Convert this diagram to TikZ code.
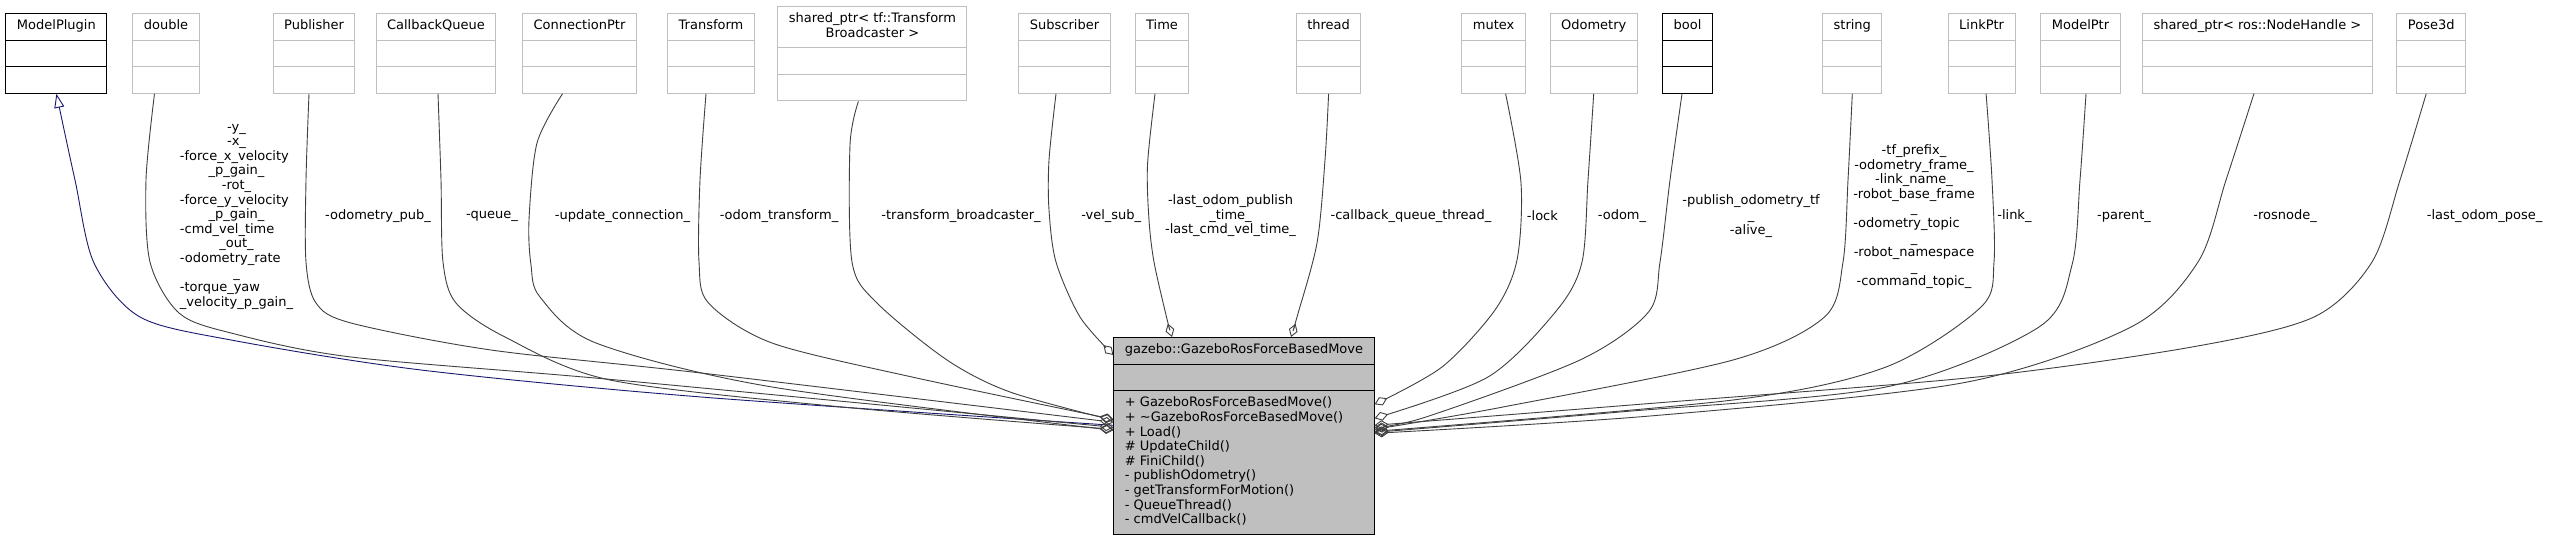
\documentclass[tikz,border=0pt]{standalone}
\usepackage{fontspec}
\setmainfont{DejaVu Sans}
\usepackage{calc}
\usepackage{tikz}
\usetikzlibrary{shapes.multipart,arrows.meta,positioning}
\definecolor{dxgrey}{HTML}{BFBFBF}
\definecolor{dxedge}{HTML}{404040}
\definecolor{dxblue}{HTML}{191970}
% left-justified lines inside centred labels
\newcommand{\dblline}[1]{\makebox[\widthof{\_velocity\_p\_gain\_}][l]{#1}}
\newcommand{\strline}[1]{\makebox[\widthof{-robot\_base\_frame}][l]{#1}}

\begin{document}
\begin{tikzpicture}[
  x=1bp, y=-1bp,
  font=\fontsize{13bp}{14.6bp}\selectfont,
  cls/.style={rectangle split, rectangle split parts=3,
              rectangle split ignore empty parts=false,
              rectangle split empty part height=10.2bp,
              rectangle split empty part depth=4.4bp,
              draw=dxgrey, line width=1bp, fill=white, align=center,
              inner xsep=11bp, inner ysep=5.5bp, anchor=north},
  doc/.style={cls, draw=black},
  lbl/.style={inner sep=0pt, align=center},
  uses/.style={dxedge, line width=0.9bp, -{Diamond[open, length=14bp, width=9bp]}},
  inh/.style={dxblue, line width=0.9bp, {Triangle[open, length=14bp, width=10bp]}-}
]
\fill[white] (0,0) rectangle (2550,536);
\useasboundingbox (0,0) rectangle (2550,536);

% member types
\node[doc] (MP) at (56.4,13) {\strut ModelPlugin\nodepart{two}\nodepart{three}};
\node[cls] (dbl) at (166,13) {\strut double\nodepart{two}\nodepart{three}};
\node[cls] (pub) at (314,13) {\strut Publisher\nodepart{two}\nodepart{three}};
\node[cls] (cbq) at (436,13) {\strut CallbackQueue\nodepart{two}\nodepart{three}};
\node[cls] (con) at (579.5,13) {\strut ConnectionPtr\nodepart{two}\nodepart{three}};
\node[cls] (trf) at (711,13) {\strut Transform\nodepart{two}\nodepart{three}};
\node[cls] (tfb) at (872.4,6) {\strut shared\_ptr< tf::Transform\\Broadcaster >\strut\nodepart{two}\nodepart{three}};
\node[cls] (sub) at (1064.5,13) {\strut Subscriber\nodepart{two}\nodepart{three}};
\node[cls] (tim) at (1162,13) {\strut Time\nodepart{two}\nodepart{three}};
\node[cls] (thr) at (1328.6,13) {\strut thread\nodepart{two}\nodepart{three}};
\node[cls] (mtx) at (1493.6,13) {\strut mutex\nodepart{two}\nodepart{three}};
\node[cls] (odo) at (1593.7,13) {\strut Odometry\nodepart{two}\nodepart{three}};
\node[doc] (bol) at (1687.5,13) {\strut bool\nodepart{two}\nodepart{three}};
\node[cls] (str) at (1852.3,13) {\strut string\nodepart{two}\nodepart{three}};
\node[cls] (lnk) at (1981.6,13) {\strut LinkPtr\nodepart{two}\nodepart{three}};
\node[cls] (mdl) at (2080.5,13) {\strut ModelPtr\nodepart{two}\nodepart{three}};
\node[cls] (nh) at (2257.4,13) {\strut shared\_ptr< ros::NodeHandle >\nodepart{two}\nodepart{three}};
\node[cls] (pose) at (2431.2,13) {\strut Pose3d\nodepart{two}\nodepart{three}};

% the plugin class
\node[cls, draw=black, fill=dxgrey, align=left, rectangle split part align={center,left,left}]
  (main) at (1244,337)
  {\strut gazebo::GazeboRosForceBasedMove\nodepart{two}\nodepart{three}%
   \strut+ GazeboRosForceBasedMove()\\+ \textasciitilde GazeboRosForceBasedMove()\\+ Load()\\
   \# UpdateChild()\\\# FiniChild()\\- publishOdometry()\\- getTransformForMotion()\\
   - QueueThread()\\- cmdVelCallback()\strut};

% edges
\draw[inh] plot[smooth] coordinates {(MP.south) (75,180) (94,263) (140,317) (231,340)
  (421,370) (701,397) ([yshift=10.5bp]main.west)};
\draw[uses] plot[smooth] coordinates {([xshift=-11.5bp]dbl.south) (146,180) (150,262)
  (179,313) (231,333) (351,357) (617,380) ([yshift=8.5bp]main.west)};
\draw[uses] plot[smooth] coordinates {([xshift=-5bp]pub.south) (306,180) (306,262)
  (316,303) (351,323) (491,350) (701,373) ([yshift=13.5bp]main.west)};
\draw[uses] plot[smooth] coordinates {([xshift=2bp]cbq.south) (441,180) (443,262)
  (456,303) (505,337) (610,380) (842,407) ([yshift=6.5bp]main.west)};
\draw[uses] plot[smooth] coordinates {([xshift=-17bp]con.south) (537,143) (529,220)
  (531,265) (540,297) (596,343) (772,387) ([yshift=5.5bp]main.west)};
\draw[uses] plot[smooth] coordinates {([xshift=-5bp]trf.south) (700,180) (699,262)
  (708.5,303) (772,343) (912,377) ([yshift=16.5bp]main.west)};
\draw[uses] plot[smooth] coordinates {([xshift=-14bp]tfb.south) (850,145) (852,262)
  (877,303) (947,360) (1010,392) ([yshift=15.5bp]main.west)};
\draw[uses] plot[smooth] coordinates {([xshift=-8.5bp]sub.south) (1049,160) (1049,210)
  (1056,262) (1080,317) ([yshift=-18bp]main.north west)};
\draw[uses] plot[smooth] coordinates {([xshift=-7bp]tim.south) (1147.5,165) (1149,220)
  (1154,262) (1166.5,317) ([xshift=-72bp]main.north)};
\draw[uses] plot[smooth] coordinates {(thr.south) (1325,160) (1317,243) (1297,317)
  ([xshift=47bp]main.north)};
\draw[uses] plot[smooth] coordinates {([xshift=12bp]mtx.south) (1521,183) (1517,260)
  (1495,310) (1442,367) ([yshift=31.5bp]main.east)};
\draw[uses] plot[smooth] coordinates {(odo.south) (1588,180) (1582,262) (1557,310)
  (1488,377) ([yshift=17.5bp]main.east)};
\draw[uses] plot[smooth] coordinates {([xshift=-5.5bp]bol.south) (1670,180) (1660,262)
  (1648.5,312) (1580,360) (1426,417) ([yshift=8.5bp]main.east)};
\draw[uses] plot[smooth] coordinates {(str.south) (1848,180) (1843,262) (1824.5,317)
  (1733,360) (1503,407) ([yshift=6.5bp]main.east)};
\draw[uses] plot[smooth] coordinates {([xshift=4.5bp]lnk.south) (1992,180) (1994,262)
  (1981,307) (1886,367) (1733,400) ([yshift=4.5bp]main.east)};
\draw[uses] plot[smooth] coordinates {([xshift=5.5bp]mdl.south) (2080,180) (2072,265)
  (2039,327) (1886,387) (1620,412) ([yshift=3.5bp]main.east)};
\draw[uses] plot[smooth] coordinates {([xshift=-3.5bp]nh.south) (2226,180) (2198,262)
  (2131,327) (1962,383) (1650,416) ([yshift=2.5bp]main.east)};
\draw[uses] plot[smooth] coordinates {([xshift=-5bp]pose.south) (2400,180) (2372,262)
  (2314,317) (2192,347) (1977,377) (1656,403) ([yshift=10.5bp]main.east)};

% member labels
\node[lbl] (ldbl) at (236.5,216.7) {-y\_\\-x\_\\\dblline{-force\_x\_velocity}\\\_p\_gain\_\\-rot\_\\
  \dblline{-force\_y\_velocity}\\\_p\_gain\_\\\dblline{-cmd\_vel\_time}\\\_out\_\\
  \dblline{-odometry\_rate}\\\_\\\dblline{-torque\_yaw}\\\_velocity\_p\_gain\_};
\node[lbl] (lpub) at (378,216) {-odometry\_pub\_};
\node[lbl] (lcbq) at (492,216) {-queue\_};
\node[lbl] (lcon) at (622.5,216) {-update\_connection\_};
\node[lbl] (ltrf) at (779,216) {-odom\_transform\_};
\node[lbl] (ltfb) at (961,216) {-transform\_broadcaster\_};
\node[lbl] (lsub) at (1111.2,216) {-vel\_sub\_};
\node[lbl] (ltim) at (1230.5,215.7) {-last\_odom\_publish\\\_time\_\\-last\_cmd\_vel\_time\_};
\node[lbl] (lthr) at (1411,216) {-callback\_queue\_thread\_};
\node[lbl] (lmtx) at (1542.4,216) {-lock};
\node[lbl] (lodo) at (1622,216) {-odom\_};
\node[lbl] (lbol) at (1751,216) {-publish\_odometry\_tf\\\_\\-alive\_};
\node[lbl] (lstr) at (1914,216.7) {-tf\_prefix\_\\-odometry\_frame\_\\-link\_name\_\\-robot\_base\_frame\\\_\\
  \strline{-odometry\_topic}\\\_\\-robot\_namespace\\\_\\-command\_topic\_};
\node[lbl] (llnk) at (2014.4,216) {-link\_};
\node[lbl] (lmdl) at (2124,216) {-parent\_};
\node[lbl] (lnh) at (2285,216) {-rosnode\_};
\node[lbl] (lpose) at (2484.6,216) {-last\_odom\_pose\_};

\end{tikzpicture}
\end{document}
